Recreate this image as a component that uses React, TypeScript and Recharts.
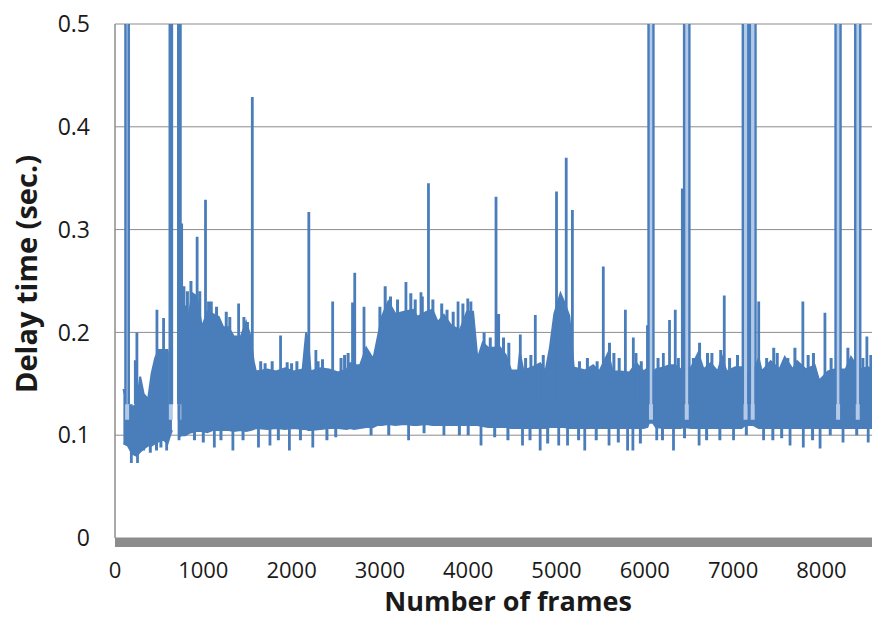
import React from 'react';
import { ComposedChart, Area, Line, XAxis, YAxis, CartesianGrid } from 'recharts';

// ---- data ----
const bandFrames = [95, 145, 195, 245, 285, 325, 375, 415, 455, 495, 545, 595, 625, 645, 660, 705, 718, 755, 795, 835, 875, 925, 985, 1045, 1105, 1175, 1225, 1285, 1345, 1425, 1485, 1535, 1570, 1595, 1725, 1825, 1925, 2025, 2125, 2165, 2190, 2215, 2325, 2425, 2525, 2625, 2665, 2705, 2775, 2845, 2925, 2975, 3025, 3095, 3175, 3275, 3375, 3425, 3525, 3595, 3655, 3725, 3805, 3905, 3985, 4055, 4105, 4165, 4225, 4285, 4355, 4425, 4485, 4565, 4585, 4625, 4725, 4815, 4875, 4925, 4975, 5045, 5085, 5145, 5195, 5325, 5415, 5485, 5585, 5635, 5725, 5825, 5905, 5985, 6030, 6045, 6095, 6125, 6210, 6280, 6345, 6405, 6445, 6525, 6605, 6665, 6745, 6825, 6875, 6925, 7025, 7095, 7140, 7225, 7290, 7325, 7425, 7525, 7585, 7675, 7725, 7825, 7925, 7975, 8075, 8145, 8275, 8335, 8425, 8525, 8600];
const bandLow = [0.092, 0.09, 0.082, 0.08, 0.084, 0.087, 0.09, 0.09, 0.092, 0.094, 0.096, 0.092, 0.1, 0.105, null, null, 0.098, 0.1, 0.1, 0.102, 0.103, 0.104, 0.104, 0.103, 0.105, 0.105, 0.105, 0.105, 0.104, 0.105, 0.104, 0.105, 0.106, 0.107, 0.106, 0.107, 0.106, 0.107, 0.106, 0.106, 0.105, 0.105, 0.106, 0.107, 0.107, 0.106, 0.107, 0.106, 0.107, 0.108, 0.108, 0.11, 0.11, 0.111, 0.11, 0.111, 0.11, 0.11, 0.111, 0.11, 0.11, 0.11, 0.11, 0.11, 0.11, 0.11, 0.11, 0.109, 0.108, 0.108, 0.108, 0.108, 0.107, 0.107, 0.107, 0.107, 0.107, 0.107, 0.107, 0.108, 0.108, 0.108, 0.108, 0.107, 0.107, 0.107, 0.107, 0.107, 0.107, 0.107, 0.107, 0.107, 0.107, 0.107, 0.108, 0.112, 0.112, 0.108, 0.107, 0.107, 0.107, 0.107, 0.108, 0.107, 0.107, 0.107, 0.107, 0.107, 0.107, 0.107, 0.107, 0.107, 0.11, 0.11, 0.107, 0.107, 0.107, 0.107, 0.107, 0.107, 0.107, 0.107, 0.107, 0.107, 0.107, 0.107, 0.107, 0.107, 0.107, 0.107, 0.107];
const bandHigh = [0.145, 0.13, 0.127, 0.13, 0.157, 0.14, 0.135, 0.16, 0.175, 0.183, 0.183, 0.183, 0.17, 0.15, null, null, 0.2, 0.23, 0.225, 0.215, 0.238, 0.235, 0.205, 0.22, 0.218, 0.215, 0.205, 0.205, 0.196, 0.196, 0.21, 0.196, 0.172, 0.162, 0.164, 0.162, 0.165, 0.162, 0.164, 0.2, 0.19, 0.162, 0.165, 0.164, 0.161, 0.164, 0.17, 0.168, 0.168, 0.185, 0.174, 0.195, 0.216, 0.23, 0.218, 0.22, 0.222, 0.215, 0.22, 0.222, 0.21, 0.217, 0.207, 0.202, 0.22, 0.22, 0.174, 0.19, 0.185, 0.185, 0.186, 0.178, 0.163, 0.163, 0.18, 0.163, 0.166, 0.17, 0.162, 0.185, 0.218, 0.238, 0.23, 0.216, 0.166, 0.163, 0.168, 0.162, 0.18, 0.162, 0.162, 0.161, 0.17, 0.162, 0.165, 0.16, 0.16, 0.164, 0.166, 0.168, 0.168, 0.164, 0.164, 0.166, 0.18, 0.164, 0.17, 0.162, 0.176, 0.162, 0.166, 0.166, 0.16, 0.16, 0.175, 0.162, 0.172, 0.164, 0.176, 0.164, 0.172, 0.164, 0.168, 0.153, 0.162, 0.164, 0.164, 0.176, 0.164, 0.166, 0.164];

// single spikes (upward peaks and downward dips)
const spikeFrames = [185, 230, 248, 255, 325, 475, 550, 585, 725, 755, 930, 1025, 1125, 1335, 1400, 1555, 1625, 1755, 1875, 1975, 2195, 2240, 2275, 2465, 2690, 2715, 2820, 3295, 3325, 3465, 3550, 3725, 3885, 3995, 4145, 4315, 4345, 4590, 4615, 4760, 4815, 5000, 5025, 5110, 5125, 5180, 5320, 5530, 5595, 5780, 5805, 5865, 5870, 6030, 6135, 6210, 6280, 6325, 6345, 6425, 6615, 6900, 7005, 7290, 7345, 7645, 7790, 7795, 7985, 8040, 8245, 8515, 8530];
const spikeValues = [0.073, 0.173, 0.2, 0.073, 0.085, 0.222, 0.214, 0.085, 0.095, 0.306, 0.293, 0.329, 0.088, 0.085, 0.228, 0.429, 0.088, 0.09, 0.197, 0.085, 0.317, 0.088, 0.183, 0.23, 0.229, 0.258, 0.225, 0.249, 0.095, 0.239, 0.345, 0.1, 0.23, 0.233, 0.09, 0.332, 0.218, 0.198, 0.09, 0.217, 0.085, 0.337, 0.09, 0.37, 0.09, 0.319, 0.085, 0.264, 0.09, 0.222, 0.085, 0.085, 0.195, 0.207, 0.095, 0.18, 0.212, 0.085, 0.222, 0.34, 0.09, 0.236, 0.095, 0.23, 0.095, 0.09, 0.23, 0.088, 0.087, 0.219, 0.093, 0.196, 0.093];

// small ragged bumps along the edges of the band
const edgeFrames = [400, 470, 520, 780, 820, 860, 900, 960, 1000, 1060, 1090, 1150, 1200, 1260, 1300, 1450, 1460, 1500, 1650, 1700, 1780, 1850, 1950, 2000, 2060, 2100, 2300, 2350, 2400, 2500, 2560, 2600, 2640, 2900, 3000, 3060, 3100, 3120, 3200, 3350, 3400, 3480, 3500, 3600, 3700, 3760, 3830, 3900, 3940, 4000, 4030, 4180, 4250, 4300, 4400, 4450, 4460, 4650, 4700, 4710, 4850, 4900, 5250, 5260, 5350, 5450, 5460, 5600, 5650, 5700, 5710, 5900, 5950, 5960, 6150, 6200, 6380, 6450, 6550, 6620, 6700, 6710, 6760, 6850, 6860, 6960, 7050, 7150, 7380, 7450, 7460, 7500, 7550, 7620, 7700, 7850, 7900, 7910, 8100, 8110, 8300, 8400, 8470, 8560];
const edgeValues = [0.083, 0.085, 0.088, 0.245, 0.24, 0.25, 0.095, 0.24, 0.093, 0.23, 0.23, 0.225, 0.095, 0.22, 0.215, 0.095, 0.215, 0.21, 0.172, 0.17, 0.172, 0.095, 0.171, 0.17, 0.172, 0.095, 0.172, 0.174, 0.095, 0.098, 0.175, 0.178, 0.18, 0.1, 0.225, 0.245, 0.1, 0.235, 0.232, 0.238, 0.232, 0.235, 0.102, 0.232, 0.228, 0.222, 0.22, 0.1, 0.228, 0.1, 0.23, 0.2, 0.195, 0.098, 0.195, 0.095, 0.19, 0.175, 0.095, 0.178, 0.178, 0.092, 0.095, 0.172, 0.175, 0.095, 0.172, 0.19, 0.18, 0.093, 0.175, 0.18, 0.092, 0.172, 0.175, 0.095, 0.175, 0.097, 0.175, 0.19, 0.095, 0.18, 0.18, 0.095, 0.183, 0.175, 0.178, 0.1, 0.175, 0.095, 0.185, 0.18, 0.097, 0.175, 0.185, 0.178, 0.095, 0.18, 0.1, 0.175, 0.185, 0.1, 0.175, 0.178];

// spikes that run off the top of the chart (up at start, down at end)
const tallStart = [118, 620, 716, 6042, 6445, 7110, 7190, 8160, 8383];
const tallEnd = [156, 645, 742, 6098, 6505, 7172, 7254, 8217, 8440];

const xTicks = [0, 1000, 2000, 3000, 4000, 5000, 6000, 7000, 8000];
const yTicks = [0, 0.1, 0.2, 0.3, 0.4, 0.5];

const SPIKE_BASE = 0.13;
const FILL_BASE = 0.115;
const OFF_TOP = 0.6;

const BLUE = '#4a7ebb';
const LIGHT = '#b3c9e8';
const GRID = '#8c8c8c';
const FONT = '"Open Sans", "Noto Sans", sans-serif';

const bandData = bandFrames.map((f, i) => ({
  frame: f,
  band: bandLow[i] == null ? null : [bandLow[i], bandHigh[i]],
}));

const spikeData: { frame: number; v: number | null }[] = [];
spikeFrames.forEach((f, i) => {
  spikeData.push({ frame: f, v: SPIKE_BASE });
  spikeData.push({ frame: f, v: spikeValues[i] });
  spikeData.push({ frame: f, v: null });
});

const edgeData: { frame: number; v: number | null }[] = [];
edgeFrames.forEach((f, i) => {
  edgeData.push({ frame: f, v: SPIKE_BASE });
  edgeData.push({ frame: f, v: edgeValues[i] });
  edgeData.push({ frame: f, v: null });
});

const tallData: { frame: number; v: number | null }[] = [];
tallStart.forEach((s, i) => {
  tallData.push({ frame: s, v: SPIKE_BASE });
  tallData.push({ frame: s, v: OFF_TOP });
  tallData.push({ frame: tallEnd[i], v: OFF_TOP });
  tallData.push({ frame: tallEnd[i], v: SPIKE_BASE });
  tallData.push({ frame: tallEnd[i], v: null });
});

const tallFillData: { frame: number; v: number | null }[] = [];
tallStart.forEach((s, i) => {
  const mid = (s + tallEnd[i]) / 2;
  tallFillData.push({ frame: mid, v: FILL_BASE });
  tallFillData.push({ frame: mid, v: OFF_TOP });
  tallFillData.push({ frame: mid, v: null });
});

export default function App() {
  return (
    <div style={{ position: 'absolute', left: 0, top: 0, width: 872, height: 627, background: '#fff' }}>
      <ComposedChart
        width={872}
        height={627}
        data={bandData}
        margin={{ top: 24, right: 0, bottom: 0, left: 0 }}
      >
        <CartesianGrid vertical={false} stroke={GRID} strokeWidth={1} />
        <XAxis
          type="number"
          dataKey="frame"
          domain={[0, 8573]}
          ticks={xTicks}
          allowDataOverflow
          height={89}
          tickLine={false}
          tickSize={0}
          tickMargin={24}
          axisLine={{ stroke: GRID, strokeWidth: 9, transform: 'translate(0 4.5)' }}
          tick={{ fontSize: 22, fill: '#1a1a1a', fontFamily: FONT }}
        />
        <YAxis
          type="number"
          domain={[0, 0.5]}
          ticks={yTicks}
          allowDataOverflow
          width={115}
          tickLine={false}
          tickSize={0}
          tickMargin={25}
          axisLine={{ stroke: GRID, strokeWidth: 1.5 }}
          tick={{ fontSize: 23, fill: '#1a1a1a', fontFamily: FONT }}
        />
        <Area
          dataKey="band"
          type="linear"
          stroke={BLUE}
          strokeWidth={2}
          fill={BLUE}
          fillOpacity={1}
          isAnimationActive={false}
          dot={false}
          activeDot={false}
        />
        <Line
          data={edgeData}
          dataKey="v"
          type="linear"
          stroke={BLUE}
          strokeWidth={3}
          dot={false}
          activeDot={false}
          isAnimationActive={false}
        />
        <Line
          data={tallFillData}
          dataKey="v"
          type="linear"
          stroke={LIGHT}
          strokeWidth={4}
          dot={false}
          activeDot={false}
          isAnimationActive={false}
        />
        <Line
          data={tallData}
          dataKey="v"
          type="linear"
          stroke={BLUE}
          strokeWidth={2.4}
          dot={false}
          activeDot={false}
          isAnimationActive={false}
        />
        <Line
          data={spikeData}
          dataKey="v"
          type="linear"
          stroke={BLUE}
          strokeWidth={2.8}
          dot={false}
          activeDot={false}
          isAnimationActive={false}
        />
      </ComposedChart>
      <svg
        width={872}
        height={627}
        style={{ position: 'absolute', left: 0, top: 0, pointerEvents: 'none' }}
      >
        <text
          x={508}
          y={611}
          textAnchor="middle"
          fontFamily={FONT}
          fontWeight={700}
          fontSize={27}
          fill="#1a1a1a"
        >
          Number of frames
        </text>
        <text
          transform="translate(37 274) rotate(-90)"
          textAnchor="middle"
          fontFamily={FONT}
          fontWeight={700}
          fontSize={29}
          fill="#1a1a1a"
        >
          Delay time (sec.)
        </text>
      </svg>
    </div>
  );
}
